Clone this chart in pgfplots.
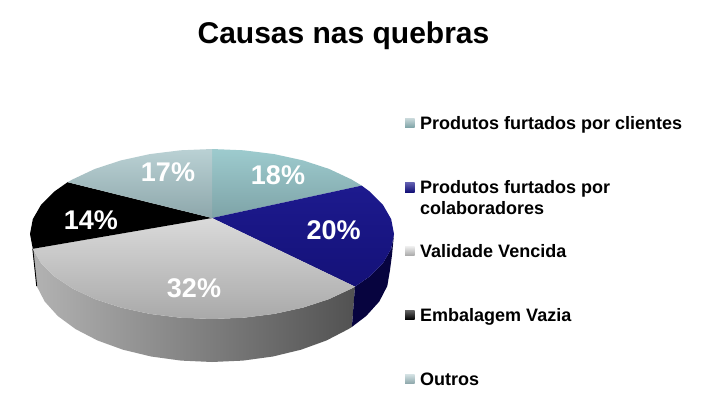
\documentclass[border=0pt]{standalone}
\usepackage{pgfplots}
\pgfplotsset{compat=1.18}
\usepackage{fontspec}
\setmainfont{Liberation Sans}

\definecolor{tealtop}{HTML}{9DCBCE}
\definecolor{tealbot}{HTML}{7EA3A7}
\definecolor{bluetop}{HTML}{1D1A8E}
\definecolor{bluebot}{HTML}{141178}
\definecolor{bluewall}{HTML}{07043F}
\definecolor{greytop}{HTML}{DADADA}
\definecolor{greybot}{HTML}{A9A9A9}
\definecolor{outtop}{HTML}{BAD1D4}
\definecolor{outbot}{HTML}{8DA7AB}

\newcommand{\pct}[3]{\node[anchor=base,text=white,font=\fontsize{27}{30}\selectfont\bfseries] at (axis cs:#1,#2) {#3};}
\newcommand{\leg}[3]{\node[anchor=base west,inner sep=0pt,font=\fontsize{18}{20}\selectfont\bfseries] at (axis cs:#1,#2) {#3};}

\begin{document}
\begin{tikzpicture}
\begin{axis}[
	width=703pt,height=407pt,scale only axis,
	xmin=0,xmax=703,ymin=0,ymax=407,y dir=reverse,
	axis line style={draw=none},ticks=none,clip=false,
	axis background/.style={fill=white}
	]

% side wall, grey slice
\addplot[draw=none,left color=black!30,middle color=black!56,right color=black!68] coordinates {
	(355,286.6) (351.4,288.6) (329,299.1) (303,307.6) (274.2,313.9) (243.6,317.7) (212,319)
	(180.4,317.7) (149.8,313.9) (121,307.6) (95,299.1) (72.6,288.6) (54.4,276.5) (41,263.1) (32.8,248.8)
	(36.7,286) (44.7,301.5) (57.8,316) (75.6,329.1) (97.6,340.5) (123,349.7) (151.1,356.5) (181.1,360.6)
	(212,362) (242.9,360.6) (272.9,356.5) (301,349.7) (326.4,340.5) (348.4,329.1) (351.9,326.9)
};
% side wall, blue slice
\addplot[draw=none,fill=bluewall] coordinates {
	(355,286.6) (369.6,276.5) (383,263.1) (391.2,248.8) (394,234)
	(392,255) (390,270) (387.3,286) (379.3,301.5) (366.2,316) (351.9,326.9)
};
% thin dark edge at the left
\addplot[black,line width=0.9pt] coordinates {(32.8,248.8) (36.7,286)};

% top: 18 %
\addplot[draw=none,top color=tealtop,bottom color=tealbot] coordinates {
	(212,218) (212,149) (243.6,150.3) (274.2,154.1) (303,160.4) (329,168.9) (351.4,179.4) (361.7,185.6)
};
% top: 20 %
\addplot[draw=none,top color=bluetop,bottom color=bluebot] coordinates {
	(212,218) (361.7,185.6) (369.6,191.5) (383,204.9) (391.2,219.2) (394,234) (391.2,248.8)
	(383,263.1) (369.6,276.5) (355,286.6)
};
% top: 32 %
\addplot[draw=none,top color=greytop,bottom color=greybot] coordinates {
	(212,218) (355,286.6) (351.4,288.6) (329,299.1) (303,307.6) (274.2,313.9) (243.6,317.7) (212,319)
	(180.4,317.7) (149.8,313.9) (121,307.6) (95,299.1) (72.6,288.6) (54.4,276.5) (41,263.1) (32.8,248.8)
};
% top: 14 %
\addplot[draw=none,fill=black] coordinates {
	(212,218) (32.8,248.8) (30,234) (32.8,219.2) (41,204.9) (54.4,191.5) (67.6,182.2)
};
% top: 17 %
\addplot[draw=none,top color=outtop,bottom color=outbot] coordinates {
	(212,218) (67.6,182.2) (72.6,179.4) (95,168.9) (121,160.4) (149.8,154.1) (180.4,150.3) (212,149)
};

% legend keys
\addplot[draw=none,top color=tealbot!40!white,bottom color=tealbot] coordinates {(405,118) (414.5,118) (414.5,127.5) (405,127.5)};
\addplot[draw=none,top color=bluetop!70!white,bottom color=bluebot] coordinates {(405,182.5) (414.5,182.5) (414.5,192) (405,192)};
\addplot[draw=none,top color=greytop!40!white,bottom color=greybot] coordinates {(405,246) (414.5,246) (414.5,255.5) (405,255.5)};
\addplot[draw=none,top color=black!60,bottom color=black] coordinates {(405,310) (414.5,310) (414.5,319.5) (405,319.5)};
\addplot[draw=none,top color=outtop!60!white,bottom color=outbot] coordinates {(405,374) (414.5,374) (414.5,383.5) (405,383.5)};

\pct{278}{184.3}{18\%}
\pct{333.7}{239.3}{20\%}
\pct{194}{297}{32\%}
\pct{90.8}{229}{14\%}
\pct{168}{181}{17\%}

\node[anchor=base,font=\fontsize{30}{34}\selectfont\bfseries] at (axis cs:343.5,43) {Causas nas quebras};
\leg{420}{129}{Produtos furtados por clientes}
\leg{420}{193.7}{Produtos furtados por}
\leg{420}{214}{colaboradores}
\leg{420}{257.3}{Validade Vencida}
\leg{420}{321.7}{Embalagem Vazia}
\leg{420}{385}{Outros}
\end{axis}
\end{tikzpicture}
\end{document}
